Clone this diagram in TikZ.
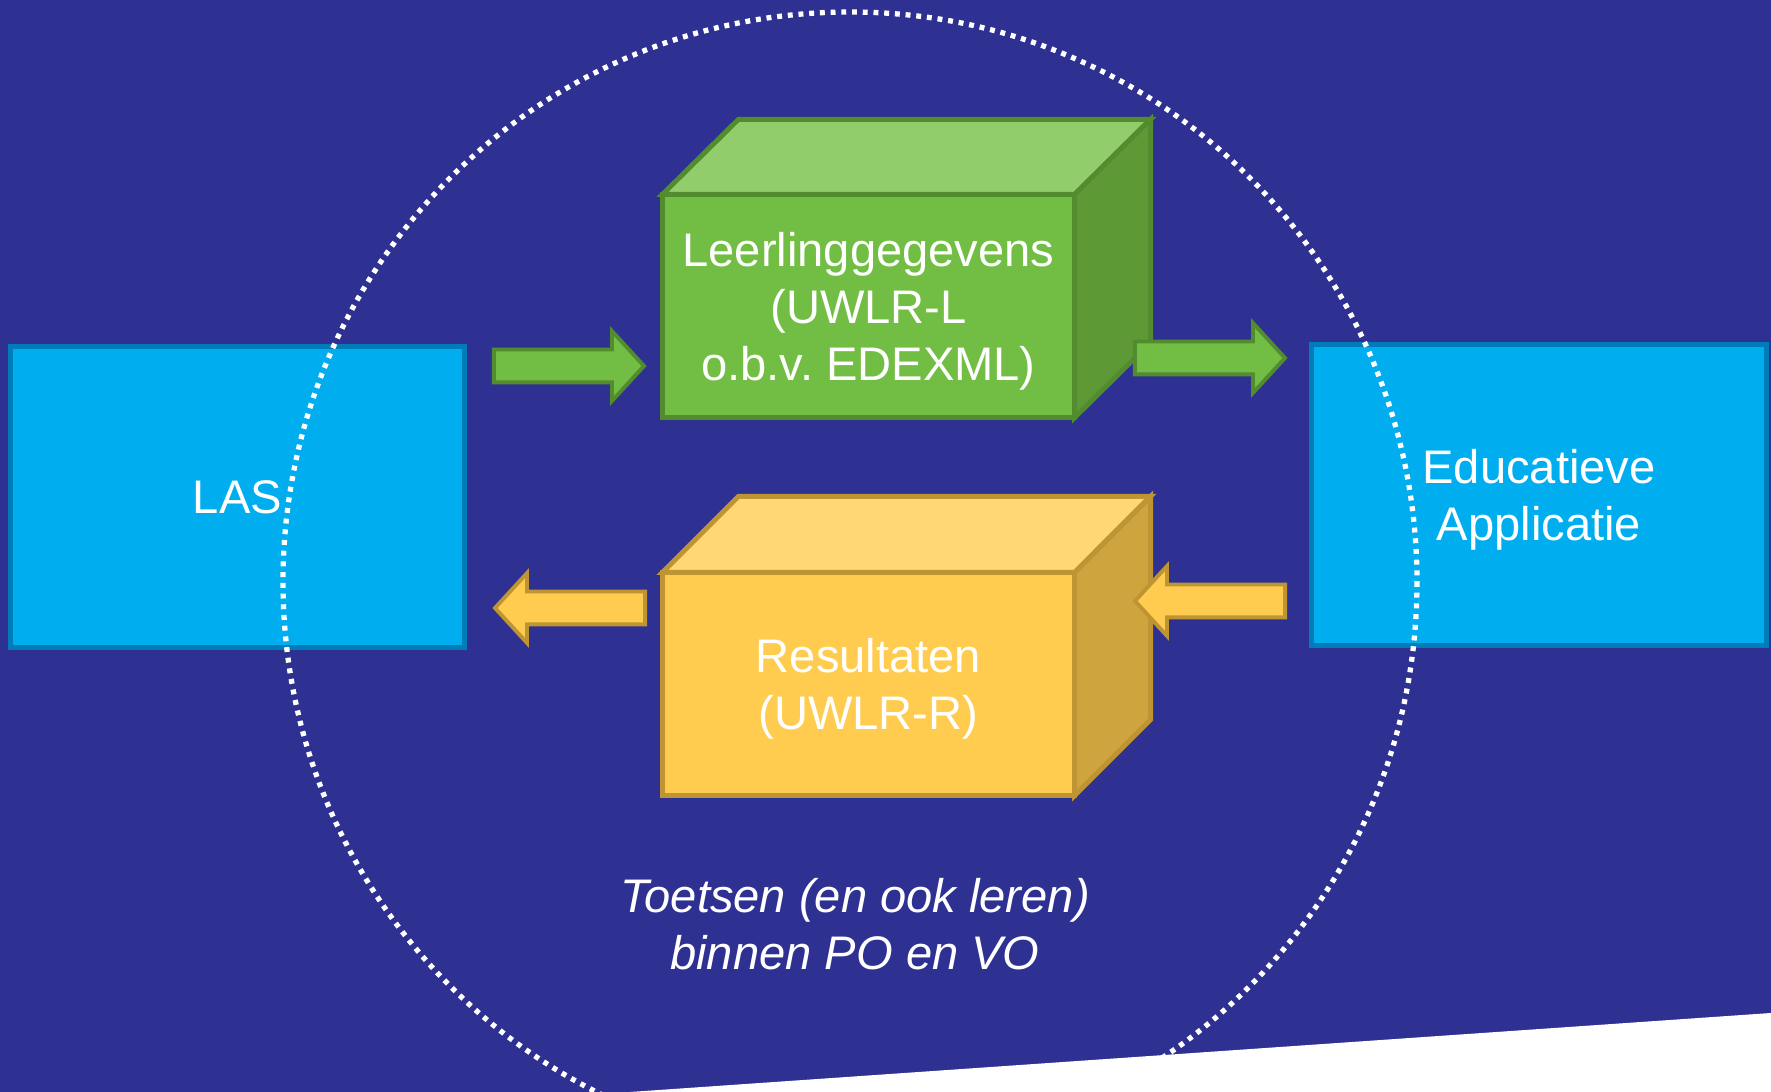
\documentclass[tikz,border=0pt]{standalone}
\usepackage{fontspec}
\setmainfont{Liberation Sans}
\usetikzlibrary{shapes.arrows}
\definecolor{bgblue}{HTML}{2E3192}
\definecolor{boxblue}{HTML}{00AEEF}
\definecolor{boxline}{HTML}{007DB8}
\definecolor{grfront}{HTML}{72BE44}
\definecolor{grtop}{HTML}{92CD6C}
\definecolor{grside}{HTML}{5D9A35}
\definecolor{grline}{HTML}{538B2F}
\definecolor{yefront}{HTML}{FFCC4F}
\definecolor{yetop}{HTML}{FFD775}
\definecolor{yeside}{HTML}{CEA43F}
\definecolor{yeline}{HTML}{BF9533}
\begin{document}
\frenchspacing
\begin{tikzpicture}[x=0.01cm,y=-0.01cm]
	 \tikzstyle{label text}=[text=white,font=\fontsize{13.4}{16.2}\selectfont,align=center]
	 \tikzstyle{lowered}=[text depth=0pt]
	 \tikzstyle{system}=[label text,rectangle,draw=boxline,fill=boxblue,line width=1.4pt,minimum width=4.54cm,minimum height=3.01cm,outer sep=0pt]
	 \tikzstyle{front}=[label text,lowered,rectangle,line width=1.4pt,minimum width=4.12cm,minimum height=2.23cm,outer sep=0pt]
	 \tikzstyle{green front}=[front,draw=grline,fill=grfront]
	 \tikzstyle{yellow front}=[front,draw=yeline,fill=yefront]
	 \tikzstyle{green face}=[draw=grline,line width=1.4pt]
	 \tikzstyle{yellow face}=[draw=yeline,line width=1.4pt]
	 \tikzstyle{block arrow}=[single arrow,anchor=tip,line width=1.1pt,inner xsep=0pt,inner ysep=0.145cm,single arrow head extend=0.185cm,single arrow tip angle=95,minimum height=1.50cm,outer sep=0pt]
	 \tikzstyle{green arrow}=[block arrow,draw=grline,fill=grfront]
	 \tikzstyle{yellow arrow}=[block arrow,draw=yeline,fill=yefront,shape border rotate=180]
	 \tikzstyle{scope line}=[draw=white,line width=1.5pt,dash pattern=on 1.4pt off 1.65pt]
	 % background
	 \fill[bgblue] (0,0) rectangle (1771,1092);
	 \useasboundingbox (0,0) rectangle (1771,1092);
	 % systems
	 \node[system] (las) at (237.5,497) {LAS};
	 \node[system,lowered] (edu) at (1539,495) {Educatieve\\Applicatie};
	 % scope
	 \draw[scope line] (850,582) ellipse [x radius=567, y radius=570];
	 \fill[white] (630,1092) -- (1771,1013) -- (1771,1092) -- cycle;
	 % cubes
	 \node[green front] (lgl) at (868.5,306) {Leerlinggegevens\\(UWLR-L\\o.b.v. EDEXML)};
	 \draw[green face,fill=grtop] (lgl.north west) -- ++(76,-75) -- ++(412,0) -- (lgl.north east) -- cycle;
	 \draw[green face,fill=grside] (lgl.north east) -- ++(76,-75) -- ++(0,223) -- (lgl.south east) -- cycle;
	 \node[yellow front] (uwr) at (868.5,684) {Resultaten\\(UWLR-R)};
	 \draw[yellow face,fill=yetop] (uwr.north west) -- ++(76,-76) -- ++(412,0) -- (uwr.north east) -- cycle;
	 \draw[yellow face,fill=yeside] (uwr.north east) -- ++(76,-76) -- ++(0,223) -- (uwr.south east) -- cycle;
	 % arrows
	 \node[green arrow] (lasout) at (644,366) {};
	 \node[green arrow] (eduin) at (1285,358) {};
	 \node[yellow arrow] (lasin) at (495,608) {};
	 \node[yellow arrow] (eduout) at (1135,601) {};
	 % caption
	 \node[label text,font=\fontsize{13.4}{16.2}\selectfont\itshape] (scope) at (855,924) {Toetsen (en ook leren)\\binnen PO en VO};
 \end{tikzpicture}
\end{document}
